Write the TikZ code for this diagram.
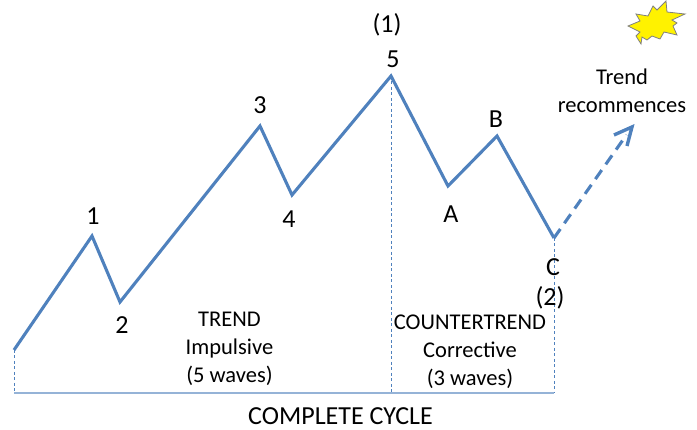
\documentclass[tikz,border=0pt]{standalone}
\usepackage{fontspec}
\usetikzlibrary{calc}
\setmainfont{Carlito}
\definecolor{wave}{HTML}{4F81BD}
\definecolor{base}{HTML}{95B3D7}
\tikzset{x=1pt,y=-1pt,
 wavel/.style={draw=wave,line width=3.1pt,line join=miter},
 guide/.style={draw=wave,line width=0.8pt,dash pattern=on 3pt off 2.5pt},
 lab/.style={font=\fontsize{22.5}{28}\selectfont,inner sep=0pt,text=black,align=center},
 big/.style={font=\fontsize{26}{28}\selectfont,inner sep=0pt,text=black,align=center},
 title/.style={font=\fontsize{26}{28}\selectfont,inner sep=0pt,text=black,align=center}}
\begin{document}
\begin{tikzpicture}
\useasboundingbox (0,0) rectangle (697,430);
\coordinate (s) at (14,350);
\coordinate (p1) at (92,236);
\coordinate (p2) at (120,302);
\coordinate (p3) at (260,126);
\coordinate (p4) at (292,195);
\coordinate (p5) at (391,76);
\coordinate (pA) at (448,186);
\coordinate (pB) at (497,136);
\coordinate (pC) at (554,238);
\coordinate (e) at (632,127);
\coordinate (b0) at (14,393);
\coordinate (b5) at (391,393);
\coordinate (bC) at (554,393);
\draw[guide] (s) -- (b0);
\draw[guide] (p5) -- (b5);
\draw[guide] (pC) -- (bC);
\draw[draw=base,line width=1.8pt] (b0) -- (bC);
\draw[wavel] (s) -- (p1) -- (p2) -- (p3) -- (p4) -- (p5) -- (pA) -- (pB) -- (pC);
\draw[wavel,dash pattern=on 11pt off 7pt] (pC) -- ($(pC)!0.93!(e)$);
\draw[wavel,line width=3.4pt] (614,135) -- (632,127) -- (627,146);
\node[big] (n1) at (93,216) {1};
\node[big] (n2) at (122,325) {2};
\node[big] (n3) at (260,105) {3};
\node[big] (n4) at (289,219) {4};
\node[big] (n5) at (393,59) {5};
\node[big] (top) at (387,25) {(1)};
\node[big] (nA) at (451,214) {A};
\node[big] (nB) at (496,119) {B};
\node[big] (nC) at (553,267) {C};
\node[big] (n22) at (550,298) {(2)};
\node[lab] (tr) at (622,91) {Trend\\recommences};
\node[lab] (t1) at (229.5,349) {TREND\\Impulsive\\(5 waves)};
\node[lab] (t2) at (470,352) {COUNTERTREND\\Corrective\\(3 waves)};
\node[title] (cc) at (340.5,416) {COMPLETE CYCLE};
\draw[draw=gray,fill=yellow,line width=0.8pt]
 (628,26)--(640,21)--(636,14)--(648,16)--(653,6)--(657,10)--(666,1)--(667,12)--(685,14)--(672,20)--(677,23)--(673,26)--(677,35)--(664,32)--(660,39)--(652,36)--(647,40)--(642,37)--(641,44)--(636,36)--(640,32)--cycle;
\end{tikzpicture}
\end{document}
